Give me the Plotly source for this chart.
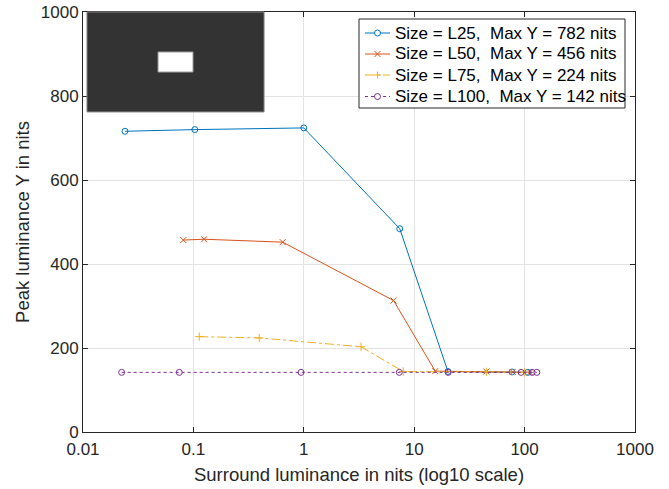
import plotly.graph_objects as go

# Data
x_l25 = [0.024, 0.103, 1.0, 7.4, 20.2, 77, 107]
y_l25 = [716, 720, 724, 484, 144, 143, 142]

x_l50 = [0.081, 0.125, 0.644, 6.5, 15.5, 45, 78, 112]
y_l50 = [457, 459, 452, 313, 145, 144, 143, 142]

x_l75 = [0.113, 0.395, 3.3, 7.96, 45, 100]
y_l75 = [227, 224, 203, 144, 143, 142]

x_l100 = [0.0224, 0.0745, 0.944, 7.33, 20.3, 93, 117, 129]
y_l100 = [142, 142, 142, 142, 142, 142, 142, 142]

series_names = [
    "Size = L25,\u00a0 Max Y = 782 nits",
    "Size = L50,\u00a0 Max Y = 456 nits",
    "Size = L75,\u00a0 Max Y = 224 nits",
    "Size = L100,\u00a0 Max Y = 142 nits",
]

x_tick_vals = [0.01, 0.1, 1, 10, 100, 1000]
x_tick_text = ["0.01", "0.1", "1", "10", "100", "1000"]
y_tick_vals = [0, 200, 400, 600, 800, 1000]

colors = ["#0072BD", "#D95319", "#EDB120", "#7E2F8E"]
dashes = ["solid", "solid", "dashdot", "dot"]
symbols = ["circle-open", "x-thin-open", "cross-thin-open", "circle-open"]
marker_kinds = ["o", "x", "+", "o"]

fig = go.Figure()
for xs, ys, name, c, d, s in zip(
    [x_l25, x_l50, x_l75, x_l100],
    [y_l25, y_l50, y_l75, y_l100],
    series_names, colors, dashes, symbols,
):
    fig.add_trace(go.Scatter(
        x=xs, y=ys, name=name, mode="lines+markers", showlegend=False,
        line=dict(color=c, width=1, dash=d),
        marker=dict(symbol=s, size=6, color=c, line=dict(color=c, width=1)),
    ))

font_family = "Liberation Sans, Arial, sans-serif"
axis_common = dict(
    showline=True, linecolor="#262626", linewidth=1, mirror="ticks",
    ticks="inside", ticklen=5, tickcolor="#262626",
    showgrid=True, gridcolor="#e3e3e3", gridwidth=1,
    zeroline=False,
    tickfont=dict(family=font_family, size=17, color="#262626"),
    title_font=dict(family=font_family, size=18.5, color="#262626"),
)

# Inset image (dark background with white patch)
shapes = [
    dict(type="rect", xref="paper", yref="paper", x0=0.0072, x1=0.328, y0=0.762, y1=1.0,
         fillcolor="#333333", line=dict(color="#888888", width=1), layer="above"),
    dict(type="rect", xref="paper", yref="paper", x0=0.1359, x1=0.1993, y0=0.857, y1=0.9048,
         fillcolor="#ffffff", line=dict(color="#999999", width=1), layer="above"),
]

# Manual legend (box, line samples, markers, text)
leg_x0, leg_x1, leg_y0, leg_y1 = 0.5, 0.9819, 0.7714, 0.9833
row_y = [0.95, 0.9, 0.85, 0.7988]
samp_x0, samp_x1, mark_x, text_x = 0.5109, 0.5562, 0.5335, 0.5616
shapes.append(dict(type="rect", xref="paper", yref="paper", x0=leg_x0, x1=leg_x1,
                   y0=leg_y0, y1=leg_y1, fillcolor="white",
                   line=dict(color="#262626", width=1), layer="above"))
annotations = []
for name, c, d, mk, ry in zip(series_names, colors, dashes, marker_kinds, row_y):
    shapes.append(dict(type="line", xref="paper", yref="paper", x0=samp_x0, x1=samp_x1,
                       y0=ry, y1=ry, line=dict(color=c, width=1, dash=d), layer="above"))
    common = dict(xref="paper", yref="paper", xsizemode="pixel", ysizemode="pixel",
                  xanchor=mark_x, yanchor=ry, layer="above")
    if mk == "o":
        shapes.append(dict(type="circle", x0=-3, x1=3, y0=-3, y1=3,
                           fillcolor="white", line=dict(color=c, width=1), **common))
    elif mk == "x":
        shapes.append(dict(type="line", x0=-3, x1=3, y0=-3, y1=3, line=dict(color=c, width=1), **common))
        shapes.append(dict(type="line", x0=-3, x1=3, y0=3, y1=-3, line=dict(color=c, width=1), **common))
    else:
        shapes.append(dict(type="line", x0=-3.5, x1=3.5, y0=0, y1=0, line=dict(color=c, width=1), **common))
        shapes.append(dict(type="line", x0=0, x1=0, y0=-3.5, y1=3.5, line=dict(color=c, width=1), **common))
    annotations.append(dict(xref="paper", yref="paper", x=text_x, y=ry, xanchor="left",
                            yanchor="middle", text=name, showarrow=False,
                            font=dict(family=font_family, size=17, color="#000000")))

fig.update_layout(
    width=669, height=489,
    margin=dict(l=83, r=34, t=12, b=57, autoexpand=False),
    paper_bgcolor="white", plot_bgcolor="white",
    font=dict(family=font_family, size=17, color="#262626"),
    xaxis=dict(type="log", range=[-2, 3], tickvals=x_tick_vals, ticktext=x_tick_text,
               automargin=False, ticklabelstandoff=2,
               title=dict(text="Surround luminance in nits (log10 scale)", standoff=9),
               **axis_common),
    yaxis=dict(range=[0, 1000], tickvals=y_tick_vals, automargin=False,
               title=dict(text="Peak luminance Y in nits", standoff=6),
               **axis_common),
    shapes=shapes,
    annotations=annotations,
    showlegend=False,
)

fig.write_html(
    "out.html",
    config={"displayModeBar": False},
    post_script="document.body.style.margin='0';document.body.style.overflow='hidden';",
)
